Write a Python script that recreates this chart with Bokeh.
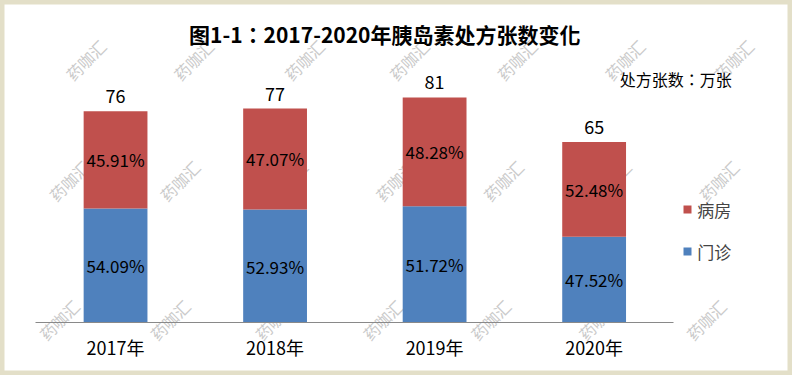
import math
from bokeh.plotting import figure
from bokeh.models import (ColumnDataSource, Range1d, Label, Legend, LegendItem,
                          LinearAxis, FixedTicker)
from bokeh.core.properties import value
from bokeh.embed import file_html
from bokeh.resources import INLINE

# ---- data ----
years = ["2017年", "2018年", "2019年", "2020年"]
totals = [76, 77, 81, 65]                      # 万张
outpatient_pct = [54.09, 52.93, 51.72, 47.52]  # 门诊
ward_pct = [45.91, 47.07, 48.28, 52.48]        # 病房
series_names = ["门诊", "病房"]
title_text = "图1-1：2017-2020年胰岛素处方张数变化"
unit_text = "处方张数：万张"
watermark_text = "药咖汇"

# ---- style / layout ----
FONT = "Noto Sans CJK SC"
FONT_TITLE = "Noto Sans CJK TC"   # centred full-width colon
BLUE = "#4F81BD"
RED = "#C0504D"
W, H = 792, 375
SX, SY = W / 808, H / 391          # reference-pixel -> canvas scale


def scr(rx, ry):
    """reference pixel position -> screen units (x from left, y from bottom)"""
    return rx * SX, H - ry * SY


# plot area: category band from ref x 36..687, baseline at ref y 336, 2.9 px per unit
px_per_cat = (687 - 36) * SX / 4
px_per_unit = 2.9 * SY
x0_px, base_px = 36 * SX, 336 * SY
x_start = -x0_px / px_per_cat
x_end = 4 + (W - 687 * SX) / px_per_cat
y_start = -(H - base_px) / px_per_unit
y_end = base_px / px_per_unit

xpos = [i + 0.5 for i in range(len(years))]
outpatient = [t * p / 100 for t, p in zip(totals, outpatient_pct)]
ward = [t - o for t, o in zip(totals, outpatient)]

src = ColumnDataSource(dict(
    x=xpos,
    outpatient=outpatient,
    ward=ward,
    total=totals,
    out_mid=[o / 2 for o in outpatient],
    ward_mid=[o + w / 2 for o, w in zip(outpatient, ward)],
    out_lbl=[f"{v:.2f}%" for v in outpatient_pct],
    ward_lbl=[f"{v:.2f}%" for v in ward_pct],
    total_lbl=[str(t) for t in totals],
))

p = figure(x_range=Range1d(x_start, x_end), y_range=Range1d(y_start, y_end),
           width=W, height=H, output_backend="svg", toolbar_location=None,
           x_axis_location=None, y_axis_location=None,
           min_border=0)
p.background_fill_color = "white"
p.border_fill_color = "white"
p.outline_line_color = "#E3DFC8"
p.outline_line_width = 8
p.grid.visible = False

# watermarks (page decoration), positions in reference pixels
wm_rows = [
    (62, [87, 197, 310, 417, 527, 637, 748]),
    (188, [70, 183, 293, 403, 513, 623, 733]),
    (333, [60, 173, 280, 390, 500, 610, 720]),
]
for ry, xs in wm_rows:
    for rx in xs:
        sx, sy = scr(rx, ry)
        p.add_layout(Label(x=sx, y=sy, x_units="screen", y_units="screen",
                           text=watermark_text, angle=math.radians(45),
                           text_align="center", text_baseline="middle",
                           text_font=FONT, text_font_size="16px",
                           text_color="#CACACA", level="underlay"))

rs = p.vbar_stack(["outpatient", "ward"], x="x", width=0.4, color=[BLUE, RED],
                  line_color=None, source=src)

common = dict(source=src, text_align="center", text_baseline="middle",
              text_font=value(FONT), text_color="#000000")
p.text(x="x", y="out_mid", text="out_lbl", text_font_size="17px", **common)
p.text(x="x", y="ward_mid", text="ward_lbl", text_font_size="17px", **common)
p.text(x="x", y="total", text="total_lbl", text_font_size="18px", y_offset=-15, **common)

ax = LinearAxis(ticker=FixedTicker(ticks=xpos),
                major_label_overrides={x: y for x, y in zip(xpos, years)},
                fixed_location=0, bounds=(0, len(years)))
ax.axis_line_color = "#898989"
ax.axis_line_width = 1
ax.major_tick_line_color = None
ax.minor_tick_line_color = None
ax.major_label_text_font = FONT
ax.major_label_text_font_size = "18px"
ax.major_label_text_color = "#000000"
ax.major_label_standoff = 5
p.add_layout(ax, "below")

# title and unit note
tx, ty = scr(392, 35)
p.add_layout(Label(x=tx, y=ty, x_units="screen", y_units="screen", text=title_text,
                   text_align="center", text_baseline="middle", text_font=FONT_TITLE,
                   text_font_size="21px", text_font_style="bold", text_color="#000000"))
ux, uy = scr(689, 82)
p.add_layout(Label(x=ux, y=uy, x_units="screen", y_units="screen", text=unit_text,
                   text_align="center", text_baseline="middle", text_font=FONT_TITLE,
                   text_font_size="16px", text_color="#000000"))

lx, ly = scr(696, 275)
legend = Legend(items=[LegendItem(label=series_names[1], renderers=[rs[1]]),
                       LegendItem(label=series_names[0], renderers=[rs[0]])],
                location=(lx, ly), orientation="vertical",
                border_line_color=None, background_fill_alpha=0,
                padding=0, margin=0, spacing=17,
                glyph_width=10, glyph_height=10, label_standoff=5,
                label_text_font=FONT, label_text_font_size="17px", label_height=22)
p.add_layout(legend)

open("out.html", "w").write(file_html(p, INLINE))
